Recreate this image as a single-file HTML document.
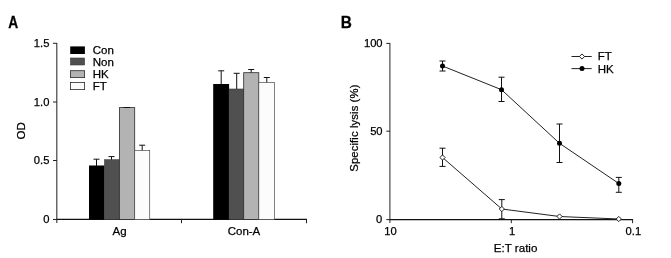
<!DOCTYPE html>
<html>
<head>
<meta charset="utf-8">
<title>Figure</title>
<style>
html,body{margin:0;padding:0;background:#fff;}
svg{display:block;}
text{font-family:"Liberation Sans",sans-serif;fill:#000;stroke:#000;stroke-width:0.25px;}
.t{font-size:11.2px;}
.ax{stroke:#222;stroke-width:1;fill:none;}
.eb{stroke:#111;stroke-width:1;fill:none;}
.l{font-size:11.5px;}
.ln{stroke:#222;stroke-width:1;fill:none;}
.dm{stroke:#111;stroke-width:0.9;fill:#fff;}
.b2{fill:#505050;stroke:#3a3a3a;stroke-width:0.6;}
.b3{fill:#b3b3b3;stroke:#2a2a2a;stroke-width:0.8;}
.b4{fill:#fcfcfc;stroke:#4a4a4a;stroke-width:0.7;}
</style>
</head>
<body>
<svg width="671" height="258" viewBox="0 0 671 258">
<rect width="671" height="258" fill="#fff"/>

<!-- ================= Panel A ================= -->
<text transform="translate(8.3 27.6) scale(0.86 1)" font-size="16" font-weight="bold" stroke="#111" stroke-width="0.4">A</text>

<!-- axes -->
<path d="M56.8 43V223" stroke="#333" stroke-width="1.1" fill="none"/>
<path d="M56.5 219.4H307" stroke="#111" stroke-width="1.3" fill="none"/>
<path class="ax" d="M53 43.3H57M53 102H57M53 160.5H57M53 219.5H57"/>
<path class="ax" d="M181.5 219.5V223.2M306.5 219.5V223.2"/>
<text class="t" x="49.4" y="47.0" text-anchor="end">1.5</text>
<text class="t" x="49.4" y="106.0" text-anchor="end">1.0</text>
<text class="t" x="49.4" y="164.0" text-anchor="end">0.5</text>
<text class="t" x="49.4" y="223.0" text-anchor="end">0</text>
<text class="l" transform="translate(24.7 130.8) rotate(-90)" text-anchor="middle">OD</text>
<text class="l" x="119.6" y="235" text-anchor="middle">Ag</text>
<text class="l" x="244" y="235" text-anchor="middle">Con-A</text>

<!-- error bars Ag -->
<path class="eb" d="M96.5 166V159.2M93.5 159.2H99.5"/>
<path class="eb" d="M111.5 161V156.6M108.5 156.6H114.5"/>
<path class="eb" d="M142.2 151V145.2M139.2 145.2H145.2"/>
<!-- bars Ag -->
<rect x="89" y="165.5" width="15.5" height="54" fill="#000"/>
<rect x="104.5" y="159.7" width="14.7" height="59.8" class="b2"/>
<rect x="119.4" y="107.6" width="15.3" height="112" class="b3"/>
<rect x="134.7" y="150.4" width="15" height="69.2" class="b4"/>
<path class="eb" d="M123.5 107.5H130" stroke-width="1.2"/>

<!-- error bars Con-A -->
<path class="eb" d="M221.2 85V70.8M218.2 70.8H224.2"/>
<path class="eb" d="M236.7 90V73.3M233.6 73.3H239.7"/>
<path class="eb" d="M251.2 73V69.5M248.2 69.5H254.2"/>
<path class="eb" d="M266.8 83V77.5M263.8 77.5H269.8"/>
<!-- bars Con-A -->
<rect x="213.2" y="84" width="15.9" height="135.5" fill="#000"/>
<rect x="229.1" y="89" width="14.6" height="130.5" class="b2"/>
<rect x="243.7" y="72.7" width="15.1" height="146.8" class="b3"/>
<rect x="258.8" y="82.4" width="15.6" height="137.1" class="b4"/>

<!-- legend A -->
<rect x="70.2" y="46.4" width="14.7" height="7.6" fill="#000"/>
<rect x="70.5" y="58" width="14.1" height="7" class="b2"/>
<rect x="70.5" y="70.7" width="14.1" height="6.9" class="b3"/>
<rect x="70.5" y="82.4" width="14.1" height="7.2" class="b4" style="stroke:#2a2a2a;stroke-width:0.8"/>
<text class="l" x="92.8" y="54.4">Con</text>
<text class="l" x="92.8" y="66.4">Non</text>
<text class="l" x="92.8" y="78.4">HK</text>
<text class="l" x="92.8" y="90.4">FT</text>

<!-- ================= Panel B ================= -->
<text transform="translate(340.8 27.6) scale(0.96 1)" font-size="16" font-weight="bold" stroke="#111" stroke-width="0.3">B</text>

<path d="M389.9 43V223" stroke="#3a3a3a" stroke-width="1.1" fill="none"/>
<path d="M389.5 219.6H633" stroke="#111" stroke-width="1.3" fill="none"/>
<path class="ax" d="M386.3 43.4H390M386.3 131.2H390M386.3 219.6H390"/>
<path class="ax" d="M511.3 219.5V223.2M632.6 219.5V223.2"/>
<text class="t" x="382.6" y="46.9" text-anchor="end">100</text>
<text class="t" x="382.6" y="135.2" text-anchor="end">50</text>
<text class="t" x="382.3" y="223.3" text-anchor="end">0</text>
<text class="t" x="390.4" y="234.9" text-anchor="middle">10</text>
<text class="t" x="512.1" y="234.9" text-anchor="middle">1</text>
<text class="t" x="633.4" y="234.9" text-anchor="middle">0.1</text>
<text x="515.6" y="251.6" text-anchor="middle" font-size="11.6">E:T ratio</text>
<text transform="translate(357.9 128.1) rotate(-90)" text-anchor="middle" font-size="11.3" letter-spacing="0.1">Specific lysis (%)</text>

<!-- HK series -->
<path class="ln" d="M442.5 66L501.5 89.7L559.5 143.3L618.8 183.5"/>
<path class="eb" d="M442.5 61V71M439.5 61H445.5M439.5 71H445.5"/>
<path class="eb" d="M501.5 77.2V101.5M498.5 77.2H504.5M498.5 101.5H504.5"/>
<path class="eb" d="M559.5 124V162.5M556.5 124H562.5M556.5 162.5H562.5"/>
<path class="eb" d="M618.8 177.4V192.3M615.8 177.4H621.8M615.8 192.3H621.8"/>
<circle cx="442.5" cy="66" r="2.5" fill="#000"/>
<circle cx="501.5" cy="89.7" r="2.5" fill="#000"/>
<circle cx="559.5" cy="143.3" r="2.5" fill="#000"/>
<circle cx="618.8" cy="183.5" r="2.5" fill="#000"/>

<!-- FT series -->
<path class="ln" d="M442.5 157.5L501.8 209L559.5 216.5L618.8 219"/>
<path class="eb" d="M442.5 148.2V166.4M439.5 148.2H445.5M439.5 166.4H445.5"/>
<path class="eb" d="M501.8 199.6V218.8M498.8 199.6H504.8M498.8 218.8H504.8"/>
<path class="dm" d="M442.5 154.9L445.1 157.5L442.5 160.1L439.9 157.5Z"/>
<path class="dm" d="M501.8 206.4L504.40000000000003 209L501.8 211.6L499.2 209Z"/>
<path class="dm" d="M559.5 213.9L562.1 216.5L559.5 219.1L556.9 216.5Z"/>
<path class="dm" d="M618.8 216.4L621.4 219L618.8 221.6L616.1999999999999 219Z"/>

<!-- legend B -->
<path class="ln" d="M571.5 56.5H591.7M571.5 68.6H591.7"/>
<path class="dm" d="M582 53.9L584.6 56.5L582 59.1L579.4 56.5Z"/>
<circle cx="582" cy="68.6" r="2.5" fill="#000"/>
<text class="l" x="597.8" y="60.1">FT</text>
<text class="l" x="597.8" y="72.5">HK</text>
</svg>
</body>
</html>
